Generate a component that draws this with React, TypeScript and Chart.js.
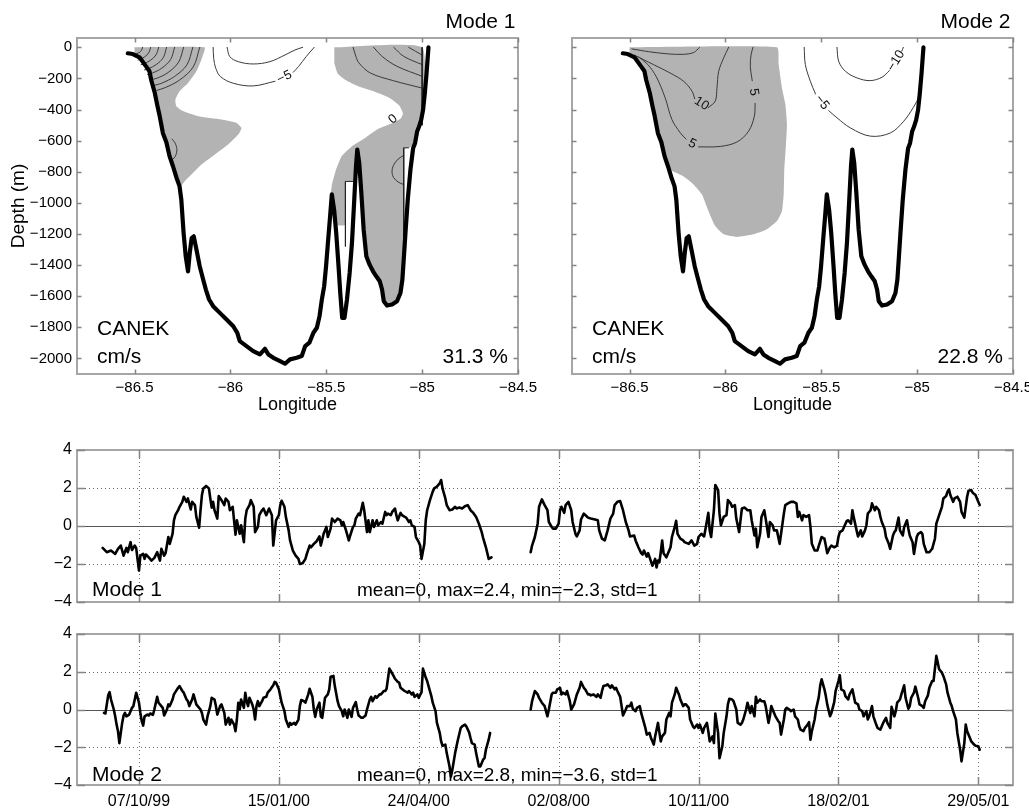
import React, { useEffect, useRef } from 'react';
import { Chart, registerables } from 'chart.js';

Chart.register(...registerables);

type Pt = [number, number];

const FONT = "'Liberation Sans', Arial, Helvetica, sans-serif";
const GRAY_FILL = '#b3b3b3';

// ---------------- axes ----------------
const lonTicks = [-86.5, -86, -85.5, -85, -84.5];
const lonTickLabels = ['−86.5', '−86', '−85.5', '−85', '−84.5'];
const depthTicks = [0, -200, -400, -600, -800, -1000, -1200, -1400, -1600, -1800, -2000];
const depthTickLabels = ['0', '−200', '−400', '−600', '−800', '−1000', '−1200', '−1400', '−1600', '−1800', '−2000'];

// days since 07/10/99
const dateTicks = [0, 100, 200, 300, 400, 500, 600];
const dateTickLabels = ['07/10/99', '15/01/00', '24/04/00', '02/08/00', '10/11/00', '18/02/01', '29/05/01'];
const ampTicks = [4, 2, 0, -2, -4];
const ampTickLabels = ['4', '2', '0', '−2', '−4'];

// ---------------- section: bathymetry (lon, depth m) ----------------
const bathymetry: Pt[] = [
  [-86.535, -38], [-86.509, -43], [-86.474, -64], [-86.439, -124], [-86.422, -154], [-86.413, -210],
  [-86.395, -290], [-86.380, -380], [-86.369, -440], [-86.352, -552], [-86.334, -610], [-86.317, -701],
  [-86.299, -766], [-86.282, -835], [-86.265, -894], [-86.256, -979], [-86.244, -1194], [-86.233, -1343],
  [-86.221, -1440], [-86.212, -1322], [-86.202, -1226], [-86.191, -1215], [-86.177, -1301], [-86.160, -1407],
  [-86.142, -1493], [-86.128, -1557], [-86.111, -1621], [-86.090, -1664], [-86.055, -1707], [-86.020, -1750],
  [-85.985, -1793], [-85.964, -1835], [-85.951, -1889], [-85.916, -1921], [-85.881, -1953], [-85.846, -1974],
  [-85.820, -1938], [-85.802, -1974], [-85.776, -1996], [-85.741, -2017], [-85.715, -2034], [-85.689, -2006],
  [-85.654, -1996], [-85.628, -1985], [-85.610, -1921], [-85.588, -1899], [-85.567, -1835], [-85.549, -1803],
  [-85.535, -1728], [-85.523, -1621], [-85.511, -1536], [-85.501, -1407], [-85.490, -1236], [-85.480, -1087],
  [-85.471, -945], [-85.459, -1044], [-85.448, -1194], [-85.436, -1407], [-85.427, -1579], [-85.417, -1739],
  [-85.405, -1739], [-85.392, -1621], [-85.378, -1450], [-85.366, -1258], [-85.354, -980], [-85.345, -766],
  [-85.338, -657], [-85.328, -744], [-85.317, -937], [-85.305, -1172], [-85.291, -1343], [-85.274, -1397],
  [-85.256, -1440], [-85.239, -1472], [-85.221, -1504], [-85.209, -1557], [-85.200, -1632], [-85.183, -1660],
  [-85.157, -1653], [-85.131, -1632], [-85.113, -1579], [-85.103, -1493], [-85.096, -1365], [-85.087, -1194],
  [-85.075, -980], [-85.061, -787], [-85.047, -648], [-85.037, -616], [-85.026, -541], [-85.016, -509],
  [-85.005, -466], [-84.995, -402], [-84.986, -295], [-84.977, -167], [-84.967, 0],
];

// ---------------- Mode 1 section ----------------
const mode1ShadeWest: Pt[] = [
  [-86.500, 0], [-86.134, 0], [-86.148, -68], [-86.177, -154], [-86.221, -229], [-86.265, -282],
  [-86.287, -336], [-86.282, -378], [-86.247, -410], [-86.169, -443], [-86.046, -464], [-85.968, -486],
  [-85.942, -518], [-85.959, -561], [-86.012, -625], [-86.081, -689], [-86.151, -753], [-86.203, -817],
  [-86.238, -860], [-86.256, -892], [-86.265, -894], [-86.282, -835], [-86.299, -766], [-86.317, -701],
  [-86.334, -610], [-86.352, -552], [-86.369, -440], [-86.380, -380], [-86.395, -290], [-86.413, -210],
  [-86.422, -154], [-86.439, -124], [-86.474, -64], [-86.500, -45],
];
const mode1ShadeEast: Pt[] = [
  [-85.458, 0], [-85.000, 0], [-85.000, -480], [-85.016, -509], [-85.026, -541], [-85.037, -616],
  [-85.070, -646], [-85.096, -646], [-85.096, -1230], [-85.096, -1365], [-85.103, -1493], [-85.113, -1579],
  [-85.131, -1632], [-85.157, -1653], [-85.183, -1660], [-85.200, -1632], [-85.209, -1557], [-85.221, -1504],
  [-85.239, -1472], [-85.256, -1440], [-85.274, -1397], [-85.291, -1343], [-85.305, -1172], [-85.317, -937],
  [-85.328, -744], [-85.338, -657], [-85.345, -766], [-85.350, -862], [-85.400, -862], [-85.400, -1140],
  [-85.452, -1140], [-85.459, -1044], [-85.471, -945], [-85.475, -930], [-85.470, -880], [-85.450, -790],
  [-85.420, -700], [-85.370, -640], [-85.300, -585], [-85.235, -528], [-85.150, -485], [-85.112, -458],
  [-85.100, -425], [-85.120, -372], [-85.170, -325], [-85.250, -284], [-85.330, -252], [-85.400, -210],
  [-85.440, -170], [-85.458, -100],
];
const mode1ContourLines: Pt[][] = [
  // west shelf contours
  [[-86.458, 0], [-86.464, -20], [-86.476, -34], [-86.499, -46]],
  [[-86.416, 0], [-86.426, -36], [-86.447, -61], [-86.469, -76], [-86.482, -81]],
  [[-86.374, 0], [-86.388, -49], [-86.417, -84], [-86.448, -104], [-86.466, -111]],
  [[-86.333, 0], [-86.350, -66], [-86.387, -111], [-86.427, -137], [-86.448, -145]],
  [[-86.291, 0], [-86.312, -79], [-86.358, -134], [-86.406, -165], [-86.432, -174]],
  [[-86.244, 0], [-86.270, -95], [-86.325, -162], [-86.382, -198], [-86.414, -208]],
  [[-86.196, 0], [-86.227, -113], [-86.292, -188], [-86.359, -231], [-86.393, -243]],
  [[-86.160, 0], [-86.194, -126], [-86.266, -211], [-86.340, -259], [-86.385, -277]],
  // -5 contour (split at label)
  [[-86.090, 0], [-86.087, -71], [-86.076, -135], [-86.052, -188], [-85.985, -231], [-85.881, -248], [-85.767, -218]],
  [[-85.672, -160], [-85.645, -124], [-85.605, -60], [-85.563, 0]],
  // inner negative contour
  [[-86.017, 0], [-86.003, -60], [-85.959, -92], [-85.881, -107], [-85.794, -92], [-85.715, -49], [-85.663, -17], [-85.623, 0]],
  // east contours
  [[-85.360, 0], [-85.345, -60], [-85.330, -100], [-85.270, -165], [-85.148, -215], [-85.000, -262]],
  [[-85.253, 0], [-85.209, -58], [-85.131, -122], [-85.000, -186]],
  [[-85.148, 0], [-85.096, -58], [-85.000, -111]],
  [[-85.070, 0], [-85.000, -50]],
  // small closed bulges at the walls
  [[-86.305, -590], [-86.290, -612], [-86.279, -655], [-86.287, -700], [-86.303, -722]],
  [[-85.096, -695], [-85.125, -718], [-85.150, -760], [-85.157, -796], [-85.150, -835], [-85.125, -866], [-85.096, -882]],
];
const mode1GridEdges: Pt[][] = [
  [[-85.000, 0], [-85.000, -500]],
  [[-85.070, -646], [-85.096, -646], [-85.096, -1224]],
  [[-85.352, -862], [-85.400, -862], [-85.400, -1279]],
];

// ---------------- Mode 2 section ----------------
const mode2Shade: Pt[] = [
  [-86.500, 0], [-85.731, 0], [-85.722, -111], [-85.705, -261], [-85.687, -368], [-85.679, -496],
  [-85.684, -625], [-85.693, -796], [-85.696, -946], [-85.705, -1053], [-85.731, -1117], [-85.783, -1170],
  [-85.853, -1202], [-85.939, -1219], [-86.009, -1202], [-86.053, -1149], [-86.088, -1053], [-86.122, -946],
  [-86.166, -881], [-86.218, -830], [-86.260, -805], [-86.292, -785], [-86.299, -766], [-86.317, -701],
  [-86.334, -610], [-86.352, -552], [-86.369, -440], [-86.380, -380], [-86.395, -290], [-86.413, -210],
  [-86.422, -154], [-86.439, -124], [-86.474, -64], [-86.500, -45],
];
const mode2ContourLines: Pt[][] = [
  [[-86.488, -10], [-86.400, -28], [-86.300, -42], [-86.220, -45], [-86.165, -33], [-86.135, 0]],
  [[-86.475, -50], [-86.375, -111], [-86.288, -165], [-86.218, -218], [-86.174, -282], [-86.160, -330]],
  [[-86.090, -388], [-86.053, -346], [-86.044, -261], [-86.035, -154], [-86.009, -68], [-85.983, 0]],
  [[-86.452, -62], [-86.405, -110], [-86.360, -190], [-86.314, -325], [-86.279, -464], [-86.235, -550], [-86.205, -590]],
  [[-86.140, -640], [-86.027, -637], [-85.939, -608], [-85.879, -539], [-85.849, -443], [-85.845, -360]],
  [[-85.860, -215], [-85.870, -122], [-85.866, -47], [-85.856, 0]],
  [[-85.589, 0], [-85.583, -111], [-85.557, -218], [-85.530, -300]],
  [[-85.461, -407], [-85.418, -453], [-85.348, -518], [-85.244, -571], [-85.139, -550], [-85.070, -475], [-85.021, -389], [-84.992, -325]],
  [[-85.418, 0], [-85.409, -90], [-85.374, -154], [-85.313, -197], [-85.244, -214], [-85.183, -192], [-85.145, -150]],
  [[-85.080, -25], [-85.072, 0]],
];

// ---------------- time series (day, amplitude) ----------------
const mode1Part1: Pt[] = [
  [-26, -1.15], [-23, -1.38], [-20, -1.29], [-17, -1.47], [-15, -1.20], [-13, -1.03], [-11, -1.56], [-9, -1.15], [-8, -1.38],
  [-6, -0.85], [-5, -1.26], [-3, -1.03], [-2, -1.15], [0, -2.35], [1, -1.56], [3, -1.47], [4, -1.73], [5, -1.50], [7, -1.65],
  [9, -1.82], [11, -1.68], [13, -1.38], [15, -1.82], [16, -1.20], [18, -1.56], [19, -1.43], [21, -0.58], [22, -0.94], [24, -0.41],
  [25, 0.30], [26, 0.57], [28, 0.83], [29, 1.01], [31, 1.27], [32, 1.54], [34, 1.27], [35, 1.45], [37, 0.87], [38, 1.27],
  [40, 1.10], [41, 0.48], [43, -0.09], [44, 0.83], [45, 1.63], [46, 1.98], [48, 2.11], [50, 1.98], [51, 1.45], [52, 0.97],
  [53, 1.27], [54, 0.83], [56, 0.39], [57, 1.58], [59, 1.36], [61, 1.10], [62, 1.45], [64, 1.27], [65, 0.83], [67, 1.01],
  [69, -0.46], [70, 0.30], [72, -0.41], [73, 0.04], [75, -0.85], [76, 0.39], [77, 0.83], [79, 1.10], [80, 1.36], [82, 1.01],
  [83, -0.32], [85, -0.05], [86, 0.57], [88, 0.83], [89, 0.92], [91, 0.57], [93, 0.92], [95, 0.57], [96, -1.03], [98, 0.30],
  [100, 0.57], [101, 1.10], [102, 1.33], [104, 1.01], [105, 0.48], [107, -0.23], [108, -0.76], [110, -1.29], [112, -1.56],
  [114, -1.73], [115, -2.00], [117, -1.96], [119, -1.73], [120, -1.47], [122, -1.03], [123, -1.12], [125, -0.94], [127, -0.80],
  [129, -0.55], [130, -1.03], [132, -0.41], [134, -0.05], [135, -0.58], [137, -0.14], [138, 0.39], [140, 0.21], [142, 0.39],
  [144, 0.30], [145, 0.04], [146, 0.21], [148, -0.23], [150, -0.76], [151, -0.50], [153, -0.05], [154, 0.04], [155, 0.39],
  [157, 0.65], [158, 0.57], [160, 1.22], [161, 0.83], [163, -0.32], [164, 0.30], [165, -0.32], [167, 0.30], [168, -0.05],
  [170, 0.30], [171, 0.04], [173, 0.21], [174, 0.12], [176, 0.74], [177, 0.57], [178, 0.65], [180, 0.57], [181, 0.74],
  [183, 0.92], [184, 0.57], [185, 0.30], [187, 0.69], [188, 0.57], [190, 0.48], [191, 0.44], [193, 0.21], [194, 0.30],
  [195, 0.04], [197, -0.05], [198, -0.58], [200, -0.85], [201, -1.03], [202, -1.73], [204, -0.94], [205, 0.30], [206, 0.83],
  [208, 1.36], [210, 1.81], [211, 1.98], [213, 2.07], [215, 2.25], [216, 2.42], [217, 1.98], [219, 1.45], [220, 1.10],
  [222, 0.83], [224, 0.87], [226, 1.01], [227, 0.92], [229, 0.97], [231, 0.92], [233, 1.04], [235, 1.10], [237, 0.83],
  [239, 0.69], [241, 0.48], [243, 0.12], [245, -0.32], [246, -0.62], [248, -1.12], [250, -1.73], [252, -1.65],
];
const mode1Part2: Pt[] = [
  [280, -1.38], [281, -1.03], [283, -0.58], [285, 0.12], [286, 1.01], [288, 1.40], [290, 1.10], [292, 0.83], [293, 0.21],
  [295, -0.05], [296, -0.14], [298, -0.14], [300, 0.12], [301, 0.83], [302, 1.01], [304, 0.69], [305, 1.10], [307, 1.27],
  [309, 0.83], [310, 0.21], [312, -0.41], [313, -0.55], [315, -0.23], [316, 0.34], [318, 0.65], [320, 0.51], [321, 0.44],
  [323, 0.39], [326, 0.34], [328, 0.30], [329, -0.23], [331, -0.67], [333, -0.76], [335, -0.23], [337, 0.39], [339, 0.65],
  [340, 1.10], [342, 1.27], [344, 1.31], [346, 0.83], [348, 0.21], [350, -0.23], [351, -0.55], [354, -0.50], [355, -0.76],
  [357, -1.12], [359, -1.43], [360, -1.50], [361, -1.29], [363, -1.61], [364, -1.43], [366, -1.86], [367, -2.09], [369, -1.73],
  [370, -2.18], [371, -1.82], [372, -1.91], [373, -1.38], [374, -0.76], [375, -1.43], [377, -1.65], [378, -1.47], [380, -1.12],
  [381, -0.58], [383, -0.05], [384, 0.27], [385, -0.41], [387, -0.67], [389, -0.76], [390, -0.85], [393, -0.94], [395, -0.76],
  [397, -1.03], [399, -0.94], [400, -0.58], [402, -0.41], [404, -0.55], [405, -0.14], [407, 0.69], [408, -0.23], [409, -0.58],
  [410, 0.12], [411, 0.83], [412, 2.16], [414, 1.89], [415, 0.65], [416, 0.04], [418, 0.48], [420, 0.57], [421, 1.36],
  [423, 1.19], [424, 1.01], [426, 1.10], [427, 0.39], [429, -0.32], [430, 0.30], [431, 0.92], [433, 0.97], [435, 0.83],
  [437, 0.83], [438, 0.30], [440, -0.50], [441, -0.14], [442, -1.12], [444, -0.41], [445, 0.48], [447, 0.83], [448, 0.39],
  [450, -0.58], [451, 0.21], [453, 0.04], [454, -0.23], [456, -0.23], [458, -0.94], [459, -0.41], [461, 0.65], [462, 1.10],
  [464, 1.19], [466, 1.27], [468, 1.27], [470, 1.19], [471, 0.48], [472, 0.74], [474, 0.30], [475, 0.57], [477, 0.48],
  [479, 0.57], [480, -0.05], [481, -0.94], [483, -1.29], [485, -1.29], [486, -1.03], [488, -0.58], [490, -0.67], [491, -1.03],
  [492, -1.43], [494, -1.12], [495, -1.03], [497, -1.12], [499, -1.03], [500, -0.58], [501, -0.32], [503, -0.23], [504, -0.05],
  [506, 0.27], [507, 0.30], [509, 0.12], [510, 0.83], [511, 0.44], [513, -0.23], [514, -0.55], [516, -0.23], [517, -0.55],
  [519, -0.23], [520, 0.04], [521, 0.65], [523, 0.83], [524, 1.19], [526, 0.83], [527, 1.01], [529, 0.83], [530, 0.48],
  [531, 0.21], [533, -0.14], [534, -0.58], [536, -0.94], [537, -1.20], [539, -0.50], [540, -0.32], [541, -0.23], [543, 0.44],
  [544, -0.23], [546, -0.50], [547, -0.05], [549, 0.30], [550, -0.14], [551, -0.50], [553, -0.85], [554, -1.47], [556, -0.58],
  [557, -0.41], [559, -0.32], [560, -0.41], [561, -0.94], [563, -1.38], [565, -1.38], [567, -1.20], [569, -0.67], [570, 0.12],
  [572, 0.57], [574, 1.01], [575, 1.45], [577, 1.58], [578, 1.81], [579, 1.93], [580, 1.63], [582, 1.27], [583, 1.45],
  [585, 1.54], [587, 1.27], [588, 0.74], [590, 0.44], [591, 1.01], [592, 1.54], [593, 1.86], [595, 1.89], [596, 1.75],
  [598, 1.63], [599, 1.45], [600, 1.27], [601, 1.10],
];
const mode2Part1: Pt[] = [
  [-25, -0.18], [-24, -0.21], [-23, 0.27], [-22, 0.75], [-21, 0.92], [-20, 0.53], [-18, 0], [-17, -0.36], [-16, -0.80],
  [-15, -1.15], [-14, -1.78], [-13, -1.24], [-12, -0.71], [-11, -0.32], [-10, -0.18], [-9, -0.36], [-7, -0.27], [-5, 0.09],
  [-4, 0.18], [-3, 0.53], [-2, 0.89], [0, 0.36], [1, -0.18], [2, -0.62], [3, -0.85], [4, -0.36], [6, -0.27], [7, -0.32],
  [8, -0.21], [10, -0.28], [11, 0], [13, 0.67], [14, 0.36], [16, 0.18], [17, 0.09], [18, -0.32], [20, 0], [21, 0.27],
  [22, 0.18], [24, 0.53], [25, 0.80], [26, 0.92], [28, 1.15], [29, 1.24], [31, 0.98], [32, 0.89], [34, 0.53], [35, 0.44],
  [36, 0.18], [38, 0.53], [39, 0.80], [41, 0.27], [42, 0.18], [44, 0], [45, -0.18], [46, -0.53], [48, -0.80], [49, -0.36],
  [51, 0.18], [52, 0.62], [54, 0.53], [55, 0.18], [56, -0.27], [58, 0.18], [59, 0.27], [61, -0.18], [62, -0.80], [64, -0.44],
  [65, -0.80], [66, -0.53], [68, -0.80], [69, -1.15], [70, -0.53], [71, 0.36], [72, 0], [73, 0.53], [75, 0.09], [76, 0.89],
  [77, 0.44], [78, 0.18], [79, 0.62], [81, 0.27], [82, 0], [83, -0.53], [84, 0.18], [85, 0.44], [86, 0.18], [88, 0.44],
  [89, 0.62], [91, 0.67], [92, 0.89], [94, 1.07], [96, 1.28], [97, 1.46], [98, 1.42], [100, 1.07], [101, 0.71], [102, 0.36],
  [104, -0.09], [105, -0.53], [107, -0.92], [108, -0.71], [109, -0.80], [111, -0.71], [112, -0.80], [114, -0.53], [115, 0.18],
  [116, 0.50], [118, 0.44], [119, 0.36], [121, 0.80], [122, 1.10], [124, 0.67], [125, 0], [126, -0.39], [127, 0], [129, 0.36],
  [130, -0.36], [131, -0.44], [132, 0.09], [133, 0.62], [135, 0.80], [136, 1.07], [137, 1.74], [139, 1.78], [140, 1.24],
  [142, 0.44], [143, 0.18], [145, -0.09], [146, -0.36], [147, 0], [149, -0.44], [150, 0], [152, -0.39], [153, 0.09],
  [155, 0.39], [156, 0], [157, -0.32], [159, -0.44], [160, -0.44], [162, -0.32], [163, 0], [165, 0.53], [166, 0.67],
  [167, 0.44], [169, 0.71], [170, 0.62], [172, 0.80], [173, 0.80], [175, 0.98], [176, 0.98], [177, 1.10], [179, 2.17],
  [180, 2.04], [182, 1.78], [183, 1.63], [185, 1.46], [186, 1.42], [187, 1.15], [189, 1.03], [190, 0.98], [192, 0.89],
  [193, 0.98], [195, 0.80], [196, 0.89], [197, 0.67], [199, 0.80], [200, 0.62], [202, 0.92], [203, 2.17], [205, 1.69],
  [206, 1.51], [207, 1.24], [209, 0.71], [210, 0.36], [212, -0.09], [213, -0.71], [215, -1.24], [216, -1.69], [217, -1.92],
  [219, -1.86], [220, -2.31], [222, -3.02], [223, -3.55], [224, -3.20], [226, -2.31], [227, -1.95], [228, -1.60], [230, -0.98],
  [231, -0.89], [233, -0.80], [234, -0.89], [236, -1.21], [237, -1.51], [238, -1.78], [240, -1.86], [241, -2.31], [243, -3.02],
  [244, -3.02], [246, -2.66], [247, -2.58], [248, -2.13], [250, -1.60], [251, -1.24],
];
const mode2Part2: Pt[] = [
  [280, 0], [281, 0.44], [283, 0.98], [285, 0.80], [286, 0.62], [288, 0.36], [290, 0.18], [292, -0.36], [293, 0],
  [295, 0.80], [296, 0.89], [298, 0.89], [299, 1.07], [301, 1.15], [302, 0.80], [303, 0.89], [305, 0.80], [306, 0.98],
  [308, 0.44], [309, 0], [311, 0.27], [312, 0.53], [313, 0.80], [315, 1.15], [316, 1.46], [318, 1.15], [319, 1.07],
  [321, 0.80], [322, 0.80], [323, 0.75], [325, 0.80], [327, 0.67], [328, 0.80], [330, 0.62], [331, 0.98], [332, 1.24],
  [334, 1.28], [335, 1.33], [337, 1.15], [338, 1.28], [340, 1.07], [341, 1.15], [342, 0.98], [344, 0.67], [345, 0.18],
  [346, -0.32], [348, 0], [349, 0.18], [351, 0.18], [352, 0.36], [353, 0.04], [355, -0.09], [356, 0.09], [358, 0.18],
  [359, -0.18], [361, -0.71], [362, -0.98], [363, -1.33], [365, -1.24], [366, -1.51], [368, -1.86], [369, -1.42], [370, -1.07],
  [371, -0.71], [373, -1.69], [374, -1.42], [376, -1.24], [377, -0.53], [379, -0.18], [380, -0.36], [381, 0.36], [383, 0.80],
  [384, 1.15], [386, 0.80], [387, 0.53], [389, 0.18], [390, 0.27], [391, 0.27], [393, 0.09], [394, -0.53], [396, -0.89],
  [397, -0.98], [399, -0.80], [400, -0.98], [401, -0.80], [403, -1.24], [404, -0.98], [406, -0.71], [407, -1.15], [408, -1.69],
  [410, -1.42], [411, -1.78], [412, -0.21], [414, -1.24], [415, -2.58], [417, -1.95], [418, -1.24], [420, -0.36], [421, 0.27],
  [422, 0.57], [424, 0.53], [425, 0.44], [427, 0], [428, -0.71], [430, -0.80], [431, -0.71], [432, -0.53], [434, 0],
  [435, 0.36], [437, -0.18], [438, 0.18], [440, -0.36], [441, 0.67], [442, 0.36], [444, 0.53], [445, 0.44], [447, 0.44],
  [448, 0.18], [450, -0.71], [451, -0.36], [452, 0.18], [454, -0.18], [455, -0.36], [457, -0.62], [458, -0.71], [459, -1.33],
  [461, -0.53], [462, 0], [463, 0.09], [465, 0], [466, -0.09], [468, 0], [469, -0.36], [471, -0.53], [472, -0.89],
  [473, -1.07], [475, -1.15], [476, -0.98], [478, -0.80], [479, -0.67], [480, -1.60], [481, -1.15], [483, -0.53], [484, 0],
  [486, 0.67], [487, 1.28], [488, 1.60], [490, 1.07], [491, 0.71], [492, 0.27], [494, -0.36], [495, -0.18], [497, 0.39],
  [498, 0.98], [500, 1.51], [501, 1.81], [502, 1.07], [504, 0.98], [505, 0.71], [507, 0.53], [508, 0.80], [510, 1.07],
  [511, 0.71], [512, 0.36], [514, 0.27], [515, 0], [517, -0.09], [518, -0.36], [520, -0.09], [521, -0.53], [522, -0.36],
  [524, 0.18], [525, -0.36], [527, -0.80], [528, -0.98], [530, -1.07], [531, -0.89], [532, -0.71], [534, -0.44], [535, -0.71],
  [537, -0.98], [538, 0.14], [540, -0.36], [541, -0.09], [542, 0.36], [544, 0.53], [545, 0.80], [547, 1.28], [548, 0.62],
  [550, 0.04], [551, 0.18], [552, 0.62], [554, 0.89], [555, 1.21], [557, 0.62], [558, 0.27], [560, 0.18], [561, 0.09],
  [562, 0.44], [564, 0.75], [565, 1.15], [567, 1.51], [568, 1.51], [570, 2.84], [571, 2.49], [572, 2.13], [574, 1.95],
  [575, 1.78], [577, 1.33], [578, 0.89], [580, 0.36], [581, 0.18], [582, -0.09], [584, -0.53], [585, -1.24], [587, -2.13],
  [588, -2.75], [590, -1.78], [591, -0.80], [592, -1.15], [594, -1.51], [595, -1.69], [597, -1.86], [598, -1.92], [600, -1.95],
  [601, -2.13],
];

// ---------------- drawing helpers ----------------
interface TextSpec {
  text: string; x: number; y: number; mode: 'data' | 'area';
  refX?: 'left' | 'right'; refY?: 'top' | 'bottom';
  align?: CanvasTextAlign; baseline?: CanvasTextBaseline; size: number; rot?: number; color?: string;
}
interface FrameSpec {
  xTicks: number[]; yTicks: number[]; tickLen: number;
  gridX?: number[]; gridY?: number[]; zero?: boolean; texts: TextSpec[];
}

function makeFrame(spec: FrameSpec) {
  return {
    id: 'frame',
    beforeDatasetsDraw(chart: any) {
      const { ctx, chartArea: a, scales } = chart;
      ctx.save();
      ctx.lineWidth = 1;
      if (spec.gridX || spec.gridY) {
        ctx.strokeStyle = '#707070';
        ctx.setLineDash([1, 3]);
        ctx.beginPath();
        for (const v of spec.gridX || []) {
          const px = Math.round(scales.x.getPixelForValue(v)) + 0.5;
          ctx.moveTo(px, a.top); ctx.lineTo(px, a.bottom);
        }
        for (const v of spec.gridY || []) {
          const py = Math.round(scales.y.getPixelForValue(v)) + 0.5;
          ctx.moveTo(a.left, py); ctx.lineTo(a.right, py);
        }
        ctx.stroke();
        ctx.setLineDash([]);
      }
      if (spec.zero) {
        const py = Math.round(scales.y.getPixelForValue(0)) + 0.5;
        ctx.strokeStyle = '#555';
        ctx.beginPath(); ctx.moveTo(a.left, py); ctx.lineTo(a.right, py); ctx.stroke();
      }
      ctx.restore();
    },
    afterDatasetsDraw(chart: any) {
      const { ctx, chartArea: a, scales } = chart;
      ctx.save();
      const L = Math.round(a.left), R = Math.round(a.right);
      const T = Math.round(a.top), B = Math.round(a.bottom);
      ctx.strokeStyle = '#a6a6a6';
      ctx.lineWidth = 2;
      ctx.strokeRect(L, T, R - L, B - T);
      ctx.strokeStyle = '#858585';
      ctx.lineWidth = 1.5;
      ctx.beginPath();
      for (const v of spec.xTicks) {
        const px = Math.round(scales.x.getPixelForValue(v)) + 0.5;
        ctx.moveTo(px, B); ctx.lineTo(px, B - spec.tickLen);
        ctx.moveTo(px, T); ctx.lineTo(px, T + spec.tickLen);
      }
      for (const v of spec.yTicks) {
        const py = Math.round(scales.y.getPixelForValue(v)) + 0.5;
        ctx.moveTo(L, py); ctx.lineTo(L + spec.tickLen, py);
        ctx.moveTo(R, py); ctx.lineTo(R - spec.tickLen, py);
      }
      ctx.stroke();
      for (const t of spec.texts) {
        let px: number, py: number;
        if (t.mode === 'data') {
          px = scales.x.getPixelForValue(t.x);
          py = scales.y.getPixelForValue(t.y);
        } else {
          px = (t.refX === 'right' ? a.right : a.left) + t.x;
          py = (t.refY === 'bottom' ? a.bottom : a.top) + t.y;
        }
        ctx.save();
        ctx.translate(px, py);
        if (t.rot) ctx.rotate((t.rot * Math.PI) / 180);
        ctx.font = `${t.size}px ${FONT}`;
        ctx.textAlign = t.align || 'left';
        ctx.textBaseline = t.baseline || 'alphabetic';
        ctx.fillStyle = t.color || '#000';
        ctx.fillText(t.text, 0, 0);
        ctx.restore();
      }
      ctx.restore();
    },
  };
}

const toXY = (pts: Pt[]) => pts.map(([x, y]) => ({ x, y }));

const lineDs = (pts: Pt[], color: string, width: number, order: number, tension: number) => ({
  data: toXY(pts), showLine: true, borderColor: color, borderWidth: width, pointRadius: 0,
  fill: false, order, tension, borderJoinStyle: 'round', borderCapStyle: 'round',
});
const shadeDs = (pts: Pt[]) => ({
  data: toXY(pts), showLine: true, borderColor: 'rgba(0,0,0,0)', borderWidth: 1, pointRadius: 0,
  backgroundColor: GRAY_FILL, fill: 'shape', order: 5, tension: 0.15,
});

const fixedTicks = (values: number[]) => (s: any) => { s.ticks = values.map((value) => ({ value })); };

interface SectionSpec {
  shades: Pt[][]; contours: Pt[][]; edges: Pt[][]; texts: TextSpec[];
  showY: boolean; padRight: number;
}

function sectionConfig(p: SectionSpec): any {
  const datasets = [
    lineDs(bathymetry, '#000', 4.2, 0, 0),
    ...p.edges.map((e) => lineDs(e, '#222', 1, 1, 0)),
    ...p.contours.map((c) => lineDs(c, '#3a3a3a', 1, 1, 0.35)),
    ...p.shades.map((s) => shadeDs(s)),
  ];
  return {
    type: 'scatter',
    data: { datasets },
    options: {
      animation: false, responsive: false, events: [],
      layout: { padding: { left: 0, right: p.padRight, top: 38, bottom: 0 } },
      plugins: { legend: { display: false }, tooltip: { enabled: false } },
      scales: {
        x: {
          type: 'linear', min: -86.8, max: -84.5, bounds: 'data',
          afterBuildTicks: fixedTicks(lonTicks),
          ticks: {
            callback: (_v: any, i: number) => lonTickLabels[i], font: { size: 15, family: FONT }, color: '#000',
            padding: 5, autoSkip: false, maxRotation: 0, minRotation: 0,
          },
          grid: { display: false, drawTicks: false }, border: { display: false },
          afterFit: (s: any) => { s.height = 56; s.paddingLeft = 0; s.paddingRight = 0; },
        },
        y: {
          type: 'linear', min: -2100, max: 60, bounds: 'data',
          afterBuildTicks: fixedTicks(depthTicks),
          ticks: {
            display: p.showY, callback: (_v: any, i: number) => depthTickLabels[i],
            font: { size: 15, family: FONT }, color: '#000', padding: 5, autoSkip: false,
          },
          grid: { display: false, drawTicks: false }, border: { display: false },
          afterFit: (s: any) => { s.width = p.showY ? 77 : 27; s.paddingTop = 0; s.paddingBottom = 0; },
        },
      },
    },
    plugins: [makeFrame({ xTicks: lonTicks, yTicks: depthTicks, tickLen: 4.5, texts: p.texts })],
  };
}

interface SeriesSpec { parts: Pt[][]; texts: TextSpec[]; showX: boolean; padTop: number; xHeight: number; }

function seriesConfig(p: SeriesSpec): any {
  return {
    type: 'scatter',
    data: { datasets: p.parts.map((s) => lineDs(s, '#000', 2.6, 0, 0)) },
    options: {
      animation: false, responsive: false, events: [],
      layout: { padding: { left: 0, right: 16, top: p.padTop, bottom: 0 } },
      plugins: { legend: { display: false }, tooltip: { enabled: false } },
      scales: {
        x: {
          type: 'linear', min: -44.3, max: 624.8, bounds: 'data',
          afterBuildTicks: fixedTicks(dateTicks),
          ticks: {
            display: p.showX, callback: (_v: any, i: number) => dateTickLabels[i],
            font: { size: 16, family: FONT }, color: '#000', padding: 7, autoSkip: false, maxRotation: 0, minRotation: 0,
          },
          grid: { display: false, drawTicks: false }, border: { display: false },
          afterFit: (s: any) => { s.height = p.xHeight; s.paddingLeft = 0; s.paddingRight = 0; },
        },
        y: {
          type: 'linear', min: -4, max: 4, bounds: 'data',
          afterBuildTicks: fixedTicks(ampTicks),
          ticks: {
            callback: (_v: any, i: number) => ampTickLabels[i], font: { size: 16, family: FONT }, color: '#000',
            padding: 5, autoSkip: false,
          },
          grid: { display: false, drawTicks: false }, border: { display: false },
          afterFit: (s: any) => { s.width = 77; s.paddingTop = 0; s.paddingBottom = 0; },
        },
      },
    },
    plugins: [makeFrame({ xTicks: dateTicks, yTicks: ampTicks, tickLen: 8, gridX: dateTicks, gridY: [2, -2], zero: true, texts: p.texts })],
  };
}

const cLabel = (text: string, x: number, y: number, rot: number): TextSpec => ({
  text, x, y, mode: 'data', align: 'center', baseline: 'middle', size: 13, rot, color: '#111',
});

const panelTexts = (mode: string, pct: string, withDepth: boolean): TextSpec[] => {
  const t: TextSpec[] = [
    { text: mode, x: -2.5, y: -10, mode: 'area', refX: 'right', align: 'right', size: 21 },
    { text: 'CANEK', x: 20, y: 297, mode: 'area', size: 21 },
    { text: 'cm/s', x: 20, y: 325, mode: 'area', size: 21 },
    { text: pct, x: -10, y: 325, mode: 'area', refX: 'right', align: 'right', size: 21 },
    { text: 'Longitude', x: 220.5, y: 36, mode: 'area', refY: 'bottom', align: 'center', size: 18 },
  ];
  if (withDepth) t.push({ text: 'Depth (m)', x: -58, y: 168, mode: 'area', align: 'center', baseline: 'middle', size: 19, rot: -90 });
  return t;
};

function ChartBox({ make, left, top, width, height }: { make: () => any; left: number; top: number; width: number; height: number }) {
  const ref = useRef<HTMLCanvasElement>(null);
  useEffect(() => {
    const chart = new Chart(ref.current as HTMLCanvasElement, make());
    return () => chart.destroy();
  }, []);
  return (
    <canvas ref={ref} width={width} height={height}
      style={{ position: 'absolute', left, top, width, height, display: 'block' }} />
  );
}

Chart.defaults.font.family = FONT;
Chart.defaults.color = '#000';

export default function App() {
  const mode1Section = () => sectionConfig({
    shades: [mode1ShadeWest, mode1ShadeEast], contours: mode1ContourLines, edges: mode1GridEdges,
    showY: true, padRight: 27,
    texts: [
      ...panelTexts('Mode 1', '31.3 %', true),
      cLabel('−5', -85.718, -192, -26),
      cLabel('0', -85.152, -462, -40),
    ],
  });
  const mode2Section = () => sectionConfig({
    shades: [mode2Shade], contours: mode2ContourLines, edges: [],
    showY: false, padRight: 16,
    texts: [
      ...panelTexts('Mode 2', '22.8 %', false),
      cLabel('10', -86.124, -362, 32),
      cLabel('5', -86.172, -620, 25),
      cLabel('5', -85.852, -288, 82),
      cLabel('−5', -85.496, -354, 52),
      cLabel('−10', -85.110, -86, -58),
    ],
  });
  const mode1Series = () => seriesConfig({
    parts: [mode1Part1, mode1Part2], showX: false, padTop: 20, xHeight: 8,
    texts: [
      { text: 'Mode 1', x: 15, y: 146, mode: 'area', size: 21 },
      { text: 'mean=0, max=2.4, min=−2.3, std=1', x: 280, y: 146, mode: 'area', size: 19 },
    ],
  });
  const mode2Series = () => seriesConfig({
    parts: [mode2Part1, mode2Part2], showX: true, padTop: 24, xHeight: 26,
    texts: [
      { text: 'Mode 2', x: 15, y: 147, mode: 'area', size: 21 },
      { text: 'mean=0, max=2.8, min=−3.6, std=1', x: 280, y: 147, mode: 'area', size: 19 },
    ],
  });
  return (
    <div style={{ position: 'absolute', left: 0, top: 0, width: 1029, height: 811, background: '#fff', overflow: 'hidden' }}>
      <ChartBox make={mode1Section} left={0} top={0} width={545} height={430} />
      <ChartBox make={mode2Section} left={545} top={0} width={484} height={430} />
      <ChartBox make={mode1Series} left={0} top={430} width={1029} height={180} />
      <ChartBox make={mode2Series} left={0} top={610} width={1029} height={201} />
    </div>
  );
}
